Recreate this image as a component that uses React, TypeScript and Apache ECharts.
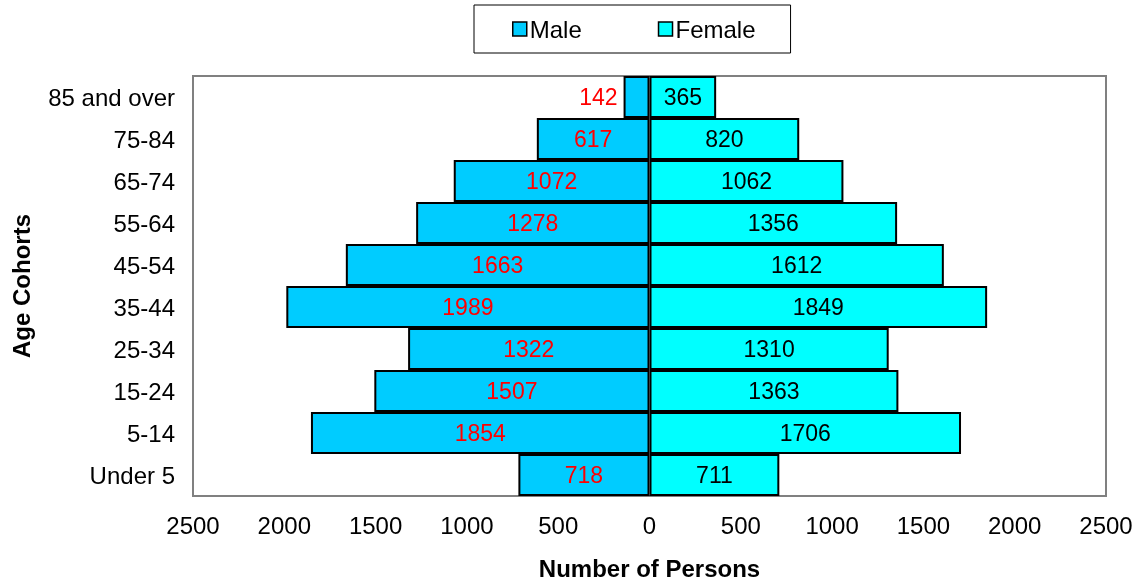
import React, { useEffect, useRef } from "react";
import * as echarts from "echarts";

const ageCohorts = ["Under 5", "5-14", "15-24", "25-34", "35-44", "45-54", "55-64", "65-74", "75-84", "85 and over"];
const maleCounts = [718, 1854, 1507, 1322, 1989, 1663, 1278, 1072, 617, 142];
const femaleCounts = [711, 1706, 1363, 1310, 1849, 1612, 1356, 1062, 820, 365];

const FONT = "'Liberation Sans', Arial, sans-serif";
const FS = 24;

export default function App() {
  const ref = useRef<HTMLDivElement>(null);

  useEffect(() => {
    if (!ref.current) return;
    const chart = echarts.init(ref.current, null, { renderer: "svg" });

    // Narrow bars get their label placed just outside the bar
    const maleData = maleCounts.map((v) => ({
      value: -v,
      label: v < 300 ? { position: "left" as const, distance: 6 } : undefined,
    }));

    chart.setOption({
      animation: false,
      textStyle: { fontFamily: FONT },
      legend: {
        left: 474,
        top: 5,
        padding: [12, 35, 12, 38],
        itemGap: 76,
        itemWidth: 14,
        itemHeight: 14,
        icon: "rect",
        borderColor: "#000",
        borderWidth: 1,
        borderRadius: 0,
        backgroundColor: "#fff",
        textStyle: { fontSize: FS, color: "#000", fontFamily: FONT, padding: [0, 0, 0, -2] },
        itemStyle: { borderColor: "#000", borderWidth: 1.5 },
        data: ["Male", "Female"],
      },
      grid: {
        left: 193,
        right: 37,
        top: 76,
        bottom: 90,
        show: true,
        borderColor: "#808080",
        borderWidth: 2,
        backgroundColor: "transparent",
      },
      xAxis: {
        type: "value",
        min: -2500,
        max: 2500,
        interval: 500,
        name: "Number of Persons",
        nameLocation: "middle",
        nameGap: 60,
        nameTextStyle: { fontSize: FS, fontWeight: "bold", color: "#000", fontFamily: FONT },
        axisLine: { show: false },
        axisTick: { show: false },
        splitLine: { show: false },
        axisLabel: {
          fontSize: FS,
          color: "#000",
          margin: 17,
          fontFamily: FONT,
          formatter: (v: number) => String(Math.abs(v)),
        },
      },
      yAxis: {
        type: "category",
        data: ageCohorts,
        name: "Age Cohorts",
        nameLocation: "middle",
        nameGap: 160,
        nameRotate: 90,
        nameTextStyle: { fontSize: FS, fontWeight: "bold", color: "#000", fontFamily: FONT },
        axisLine: { show: false },
        axisTick: { show: false },
        splitLine: { show: false },
        axisLabel: { fontSize: FS, color: "#000", margin: 18, fontFamily: FONT },
      },
      series: [
        {
          name: "Male",
          type: "bar",
          stack: "pop",
          data: maleData,
          barCategoryGap: "0%",
          itemStyle: { color: "#00CCFF", borderColor: "#000", borderWidth: 2 },
          label: {
            show: true,
            position: "inside",
            color: "#FF0000",
            fontSize: 23,
            fontFamily: FONT,
            formatter: (p: any) => String(Math.abs(p.value)),
          },
        },
        {
          name: "Female",
          type: "bar",
          stack: "pop",
          data: femaleCounts,
          barCategoryGap: "0%",
          itemStyle: { color: "#00FFFF", borderColor: "#000", borderWidth: 2 },
          label: {
            show: true,
            position: "inside",
            color: "#000",
            fontSize: 23,
            fontFamily: FONT,
          },
        },
      ],
    });

    return () => chart.dispose();
  }, []);

  return <div ref={ref} style={{ width: 1143, height: 586, position: "fixed", left: 0, top: 0 }} />;
}
